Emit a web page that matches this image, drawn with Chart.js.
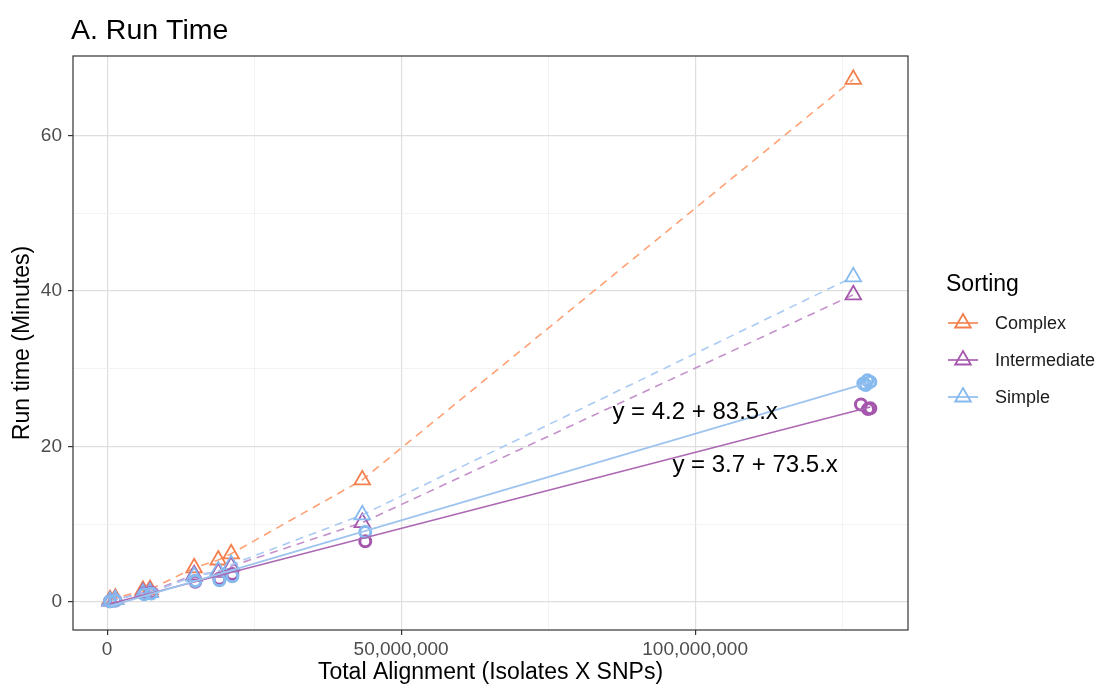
<!DOCTYPE html>
<html>
<head>
<meta charset="utf-8">
<script src="https://cdn.jsdelivr.net/npm/chart.js@4.4.1/dist/chart.umd.min.js"></script>
<style>
  html, body { margin: 0; padding: 0; background: #fff; }
  #wrap { width: 1101px; height: 688px; position: relative; }
</style>
</head>
<body>
<div id="wrap"><canvas id="runChart"></canvas></div>
<script>
// series names + colours
const SORTINGS = ['Complex', 'Intermediate', 'Simple'];
const MARKER_COLORS = ['#F37F4C', '#A457AC', '#86BAEF'];
const DASH_COLORS = ['#FFA174', '#C491CB', '#A9CBF3'];
const FIT_COLORS = { Intermediate: '#AC68B3', Simple: '#9DC4EE' };

// triangle points (dashed lines), x = alignment size
const triX = [0.5e6, 1.4e6, 6.1e6, 7.3e6, 14.8e6, 18.9e6, 21.1e6, 43.4e6, 126.9e6];
const triComplex = [0.3, 0.5, 1.5, 1.6, 4.4, 5.4, 6.2, 15.7, 67.2];
const triIntermediate = [0.1, 0.3, 1.2, 1.3, 3.5, 3.8, 4.6, 10.2, 39.5];
const triSimple = [0.1, 0.3, 1.1, 1.2, 3.3, 4.0, 4.8, 11.2, 41.8];

// circle points (solid fitted lines)
const circSimpleX = [0.5e6, 1.4e6, 6.3e6, 7.5e6, 15.0e6, 19.1e6, 21.3e6, 43.9e6, 128.6e6, 129.3e6, 129.8e6, 129.0e6];
const circSimple = [0.1, 0.2, 1.0, 1.1, 2.7, 2.8, 3.3, 9.0, 28.1, 28.5, 28.3, 27.9];
const circInterX = [0.5e6, 1.4e6, 6.3e6, 7.5e6, 15.0e6, 19.1e6, 21.3e6, 43.9e6, 128.2e6, 129.4e6, 129.8e6];
const circInter = [0.1, 0.2, 1.1, 1.2, 2.6, 3.0, 3.6, 7.8, 25.4, 24.8, 24.9];

// axis ticks
const xTicks = [0, 25e6, 50e6, 75e6, 100e6, 125e6];
const xLabeled = [0, 50e6, 100e6];
const yTicks = [0, 10, 20, 30, 40, 50, 60];
const yLabeled = [0, 20, 40, 60];

// fit equation labels
const eqLabels = [
    { text: 'y = 4.2 + 83.5.x', x: 100e6, y: 24.4 },
    { text: 'y = 3.7 + 73.5.x', x: 110.2e6, y: 17.6 }
];

const FONT = '"Liberation Sans", Arial, Helvetica, sans-serif';
const TRI_R = 9;

function zipPoints(xs, ys) {
    return xs.map((x, i) => ({ x: x, y: ys[i] }));
}

// least squares fit, returns the line between smallest and largest x
function fitLine(xs, ys) {
    const n = xs.length;
    const mx = xs.reduce((a, b) => a + b, 0) / n;
    const my = ys.reduce((a, b) => a + b, 0) / n;
    let sxy = 0, sxx = 0;
    xs.forEach((x, i) => { sxy += (x - mx) * (ys[i] - my); sxx += (x - mx) * (x - mx); });
    const b = sxy / sxx;
    const a = my - b * mx;
    const lo = Math.min(...xs), hi = Math.max(...xs);
    return [{ x: lo, y: a + b * lo }, { x: hi, y: a + b * hi }];
}

function triDataset(i, ys) {
    return {
        label: SORTINGS[i],
        data: zipPoints(triX, ys),
        showLine: true,
        borderColor: DASH_COLORS[i],
        borderWidth: 1.6,
        borderDash: [8, 6],
        pointStyle: 'triangle',
        pointRadius: TRI_R,
        pointBorderWidth: 1.8,
        pointBorderColor: MARKER_COLORS[i],
        pointBackgroundColor: 'rgba(0,0,0,0)'
    };
}

function circDataset(i, xs, ys) {
    return {
        label: SORTINGS[i] + ' circles',
        data: zipPoints(xs, ys),
        showLine: false,
        pointStyle: 'circle',
        pointRadius: 5.5,
        pointBorderWidth: 3,
        pointBorderColor: MARKER_COLORS[i],
        pointBackgroundColor: 'rgba(0,0,0,0)'
    };
}

function fitDataset(name, xs, ys) {
    return {
        label: name + ' fit',
        data: fitLine(xs, ys),
        showLine: true,
        borderColor: FIT_COLORS[name],
        borderWidth: 1.6,
        pointRadius: 0
    };
}

// draws border, title, axis titles, equations and the legend
const decorPlugin = {
    id: 'decor',
    afterDatasetsDraw(chart) {
        const ctx = chart.ctx;
        const area = chart.chartArea;
        const xs = chart.scales.x, ys = chart.scales.y;
        ctx.save();

        // equations
        ctx.fillStyle = '#000';
        ctx.font = '24px ' + FONT;
        ctx.textAlign = 'center';
        ctx.textBaseline = 'middle';
        eqLabels.forEach(l => ctx.fillText(l.text, xs.getPixelForValue(l.x), ys.getPixelForValue(l.y)));

        // panel border
        ctx.strokeStyle = '#333333';
        ctx.lineWidth = 1.2;
        ctx.strokeRect(area.left, area.top, area.right - area.left, area.bottom - area.top);

        // title
        ctx.fillStyle = '#000';
        ctx.textAlign = 'left';
        ctx.font = '28.5px ' + FONT;
        ctx.fillText('A. Run Time', 71, 31);

        // axis titles
        ctx.font = '23px ' + FONT;
        ctx.textAlign = 'center';
        ctx.fillText('Total Alignment (Isolates X SNPs)', (area.left + area.right) / 2, 673);
        ctx.save();
        ctx.translate(23, (area.top + area.bottom) / 2);
        ctx.rotate(-Math.PI / 2);
        ctx.fillText('Run time (Minutes)', 0, 0);
        ctx.restore();

        // legend
        ctx.textAlign = 'left';
        ctx.font = '23px ' + FONT;
        ctx.fillText('Sorting', 946, 285);
        const itemY = [323, 360, 397];
        SORTINGS.forEach((name, i) => {
            const y = itemY[i];
            ctx.strokeStyle = MARKER_COLORS[i];
            ctx.lineWidth = 1.6;
            ctx.beginPath();
            ctx.moveTo(948, y);
            ctx.lineTo(978, y);
            ctx.stroke();
            const r = TRI_R;
            ctx.lineWidth = 1.8;
            ctx.beginPath();
            ctx.moveTo(963, y - r);
            ctx.lineTo(963 + r * Math.sin(Math.PI / 3), y + r / 2);
            ctx.lineTo(963 - r * Math.sin(Math.PI / 3), y + r / 2);
            ctx.closePath();
            ctx.stroke();
            ctx.fillStyle = '#1a1a1a';
            ctx.font = '18px ' + FONT;
            ctx.fillText(name, 995, y + 1);
        });
        ctx.restore();
    }
};

const canvas = document.getElementById('runChart');
canvas.width = 1101;
canvas.height = 688;

new Chart(canvas.getContext('2d'), {
    type: 'scatter',
    data: {
        datasets: [
            fitDataset('Simple', circSimpleX, circSimple),
            fitDataset('Intermediate', circInterX, circInter),
            circDataset(2, circSimpleX, circSimple),
            circDataset(1, circInterX, circInter),
            triDataset(2, triSimple),
            triDataset(1, triIntermediate),
            triDataset(0, triComplex)
        ]
    },
    options: {
        responsive: false,
        animation: false,
        devicePixelRatio: 1,
        layout: { padding: { top: 56, right: 193, bottom: 0, left: 0 } },
        plugins: {
            legend: { display: false },
            title: { display: false },
            tooltip: { enabled: false }
        },
        scales: {
            x: {
                type: 'linear',
                min: -5.8e6,
                max: 136.2e6,
                afterFit: (scale) => { scale.height = 58; },
                afterBuildTicks: (scale) => { scale.ticks = xTicks.map(v => ({ value: v })); },
                border: { display: false },
                grid: {
                    color: c => (c.tick && xLabeled.includes(c.tick.value)) ? '#DEDEDE' : '#F0F0F0',
                    lineWidth: c => (c.tick && xLabeled.includes(c.tick.value)) ? 1.2 : 0.8,
                    tickColor: c => (c.tick && xLabeled.includes(c.tick.value)) ? '#333333' : 'rgba(0,0,0,0)',
                    tickLength: 5
                },
                ticks: {
                    autoSkip: false,
                    maxRotation: 0,
                    padding: 3,
                    color: '#4D4D4D',
                    font: { family: FONT, size: 19 },
                    callback: v => xLabeled.includes(v) ? v.toLocaleString('en-US') : ''
                }
            },
            y: {
                type: 'linear',
                min: -3.6,
                max: 70.2,
                afterFit: (scale) => { scale.width = 73; },
                afterBuildTicks: (scale) => { scale.ticks = yTicks.map(v => ({ value: v })); },
                border: { display: false },
                grid: {
                    color: c => (c.tick && yLabeled.includes(c.tick.value)) ? '#DEDEDE' : '#F0F0F0',
                    lineWidth: c => (c.tick && yLabeled.includes(c.tick.value)) ? 1.2 : 0.8,
                    tickColor: c => (c.tick && yLabeled.includes(c.tick.value)) ? '#333333' : 'rgba(0,0,0,0)',
                    tickLength: 5
                },
                ticks: {
                    autoSkip: false,
                    padding: 6,
                    color: '#4D4D4D',
                    font: { family: FONT, size: 19 },
                    callback: v => yLabeled.includes(v) ? String(v) : ''
                }
            }
        }
    },
    plugins: [decorPlugin]
});
</script>
</body>
</html>
